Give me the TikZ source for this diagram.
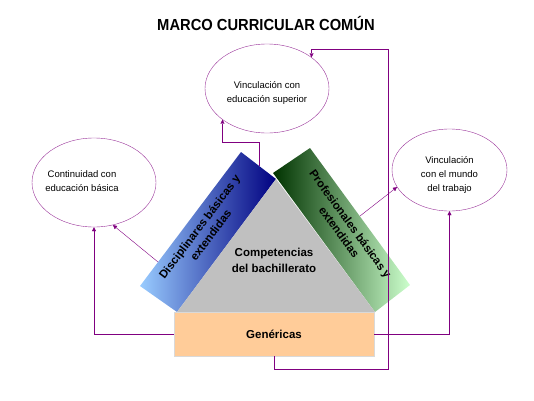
\documentclass[tikz,border=0pt]{standalone}
\usepackage{fontspec}
\setmainfont{Liberation Sans}
\usepackage{tikz}
\usetikzlibrary{arrows.meta, shapes.geometric}

\definecolor{lila}{HTML}{800080}
\definecolor{lilaclaro}{HTML}{993399}
\definecolor{gris}{HTML}{C0C0C0}
\definecolor{durazno}{HTML}{FFCC99}
\definecolor{azulclaro}{HTML}{99CCFF}
\definecolor{azulosc}{HTML}{000080}
\definecolor{verdeosc}{HTML}{003300}
\definecolor{verdeclaro}{HTML}{CCFFCC}

\begin{document}
\begin{tikzpicture}[x=1pt, y=1pt,
        meta/.style={ellipse, draw=lilaclaro, thin, minimum width=124pt, minimum height=89pt, inner sep=0pt},
        texto/.style={font=\fontsize{9.5}{14}\selectfont, align=center},
        negrita/.style={font=\fontsize{11.5}{16}\selectfont\bfseries, align=center},
        banda/.style={font=\fontsize{11.5}{14}\selectfont\bfseries, align=center},
        enlace/.style={draw=lila, thin, -{Triangle[length=4pt, width=4pt]}}]
        \useasboundingbox (0,0) rectangle (534,400);

        % Titulo
        \node[anchor=base, font=\fontsize{16}{18}\selectfont\bfseries, xscale=0.92] (titulo) at (266,370) {MARCO CURRICULAR COMÚN};

        % Metas
        \node[meta, label={[texto, yshift=-4.5pt]center:{Vinculación con\\educación superior}}] (sup) at (267,311.5) {};
        \node[meta, label={[texto, xshift=-12pt, yshift=1pt]center:{Continuidad con\\educación básica}}] (cont) at (94,217.5) {};
        \node[meta, minimum width=115pt, minimum height=82pt, label={[texto, yshift=-5pt]center:{Vinculación\\con el mundo\\del trabajo}}] (mundo) at (449.5,230) {};

        % Triangulo y bandas
        \coordinate (A) at (276,221);
        \coordinate (B) at (177,88);
        \coordinate (C) at (375,88);
        \shade[left color=azulclaro, right color=azulosc] (B) -- (A) -- (241,248) -- (140,114) -- cycle;
        \shade[left color=verdeosc, right color=verdeclaro] (273,227) -- (310,252) -- (410,115) -- (C) -- cycle;
        \fill[gris] (A) -- (B) -- (C) -- cycle;

        \node[draw=black!15, fill=durazno, minimum width=200pt, minimum height=44pt, negrita] (gen) at (274,66) {Genéricas};
        \node[negrita] (comp) at (274,140) {Competencias\\del bachillerato};
        \node[banda, rotate=53] (disc) at (205,169) {Disciplinares básicas y\\extendidas};
        \node[banda, rotate=-54] (prof) at (345,172) {Profesionales básicas y\\extendidas};

        % Conexiones
        \coordinate (d1) at (259,234);
        \coordinate (d2) at (158,138);
        \coordinate (p1) at (360,184);
        \draw[enlace] (d1) -- ++(0,24) -| (sup.215);
        \draw[enlace] (d2) -- (cont.-66);
        \draw[enlace] (gen.west) -| (cont.south);
        \draw[enlace] (gen.east) -| (mundo.south);
        \draw[enlace] (p1) -- (mundo.198);
        \draw[enlace] (gen.south) |- (388,31) -- (388,351) -| (sup.35);
    \end{tikzpicture}
\end{document}
